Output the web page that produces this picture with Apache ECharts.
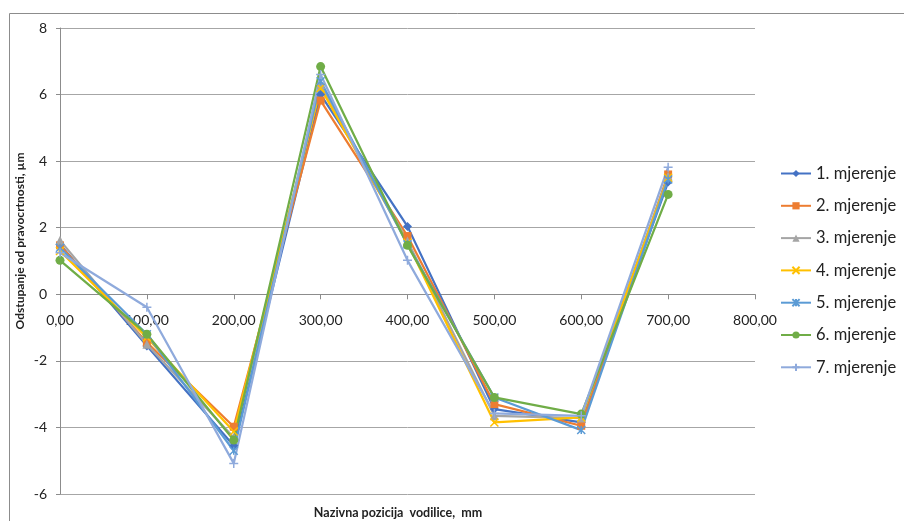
<!DOCTYPE html>
<html><head><meta charset="utf-8">
<script src="https://cdn.jsdelivr.net/npm/echarts@6/dist/echarts.min.js"></script>
<style>html,body{margin:0;padding:0;background:#fff}#c{width:904px;height:521px}</style>
</head><body><div id="c"></div>
<script>
const positions = [0, 100, 200, 300, 400, 500, 600, 700];
const seriesNames = ['1. mjerenje','2. mjerenje','3. mjerenje','4. mjerenje','5. mjerenje','6. mjerenje','7. mjerenje'];
const m1 = [1.50, -1.55, -4.55, 6.00, 2.04, -3.45, -3.85, 3.37];
const m2 = [1.47, -1.45, -3.98, 5.82, 1.75, -3.30, -3.95, 3.60];
const m3 = [1.62, -1.50, -4.30, 6.30, 1.60, -3.65, -3.72, 3.55];
const m4 = [1.30, -1.30, -4.12, 6.20, 1.55, -3.85, -3.70, 3.50];
const m5 = [1.40, -1.20, -4.70, 6.40, 1.50, -3.10, -4.08, 3.45];
const m6 = [1.02, -1.20, -4.38, 6.84, 1.47, -3.10, -3.60, 3.00];
const m7 = [1.25, -0.39, -5.08, 6.60, 1.02, -3.58, -3.65, 3.82];
const allValues = [m1, m2, m3, m4, m5, m6, m7];
const colors = ['#4472C4','#ED7D31','#A5A5A5','#FFC000','#5B9BD5','#70AD47','#8FAADC'];
const symbols = ['diamond','rect','triangle','path://M0,0L10,10M10,0L0,10','path://M0,0L10,10M10,0L0,10M5,0L5,10','circle','path://M5,0L5,10M0,5L10,5'];
const symbolSizes = [9,8,9,8,8,9,9];
const yMin = -6, yMax = 8;

const gridTop = 28, gridBottom = 27, chartH = 521;
const plotH = chartH - gridTop - gridBottom;
const xAxisOffset = -((0 - yMin) / (yMax - yMin)) * plotH;

const fmt = v => v.toFixed(2).replace('.', ',');
const series = allValues.map((vals, i) => {
  const hollow = symbols[i].startsWith('path');
  return {
    name: seriesNames[i], type: 'line',
    data: positions.map((p, j) => [p, vals[j]]),
    symbol: symbols[i], symbolSize: symbolSizes[i],
    lineStyle: { color: colors[i], width: 2.25 },
    itemStyle: hollow ? { color: 'transparent', borderColor: colors[i], borderWidth: 1.5 } : { color: colors[i], borderColor: colors[i], borderWidth: 0 },
    emphasis: { disabled: true },
    animation: false
  };
});

const chart = echarts.init(document.getElementById('c'));
chart.setOption({
  animation: false,
  color: colors,
  textStyle: { fontFamily: 'Lato' },
  grid: { left: 60, right: 149, top: gridTop, bottom: gridBottom, containLabel: false },
  xAxis: {
    type: 'value', min: 0, max: 800, interval: 100, position: 'bottom', offset: xAxisOffset,
    axisLine: { show: true, onZero: false, lineStyle: { color: '#8c8c8c', width: 1 } },
    axisTick: { show: true, length: 5, lineStyle: { color: '#8c8c8c' } },
    axisLabel: { formatter: fmt, color: '#222', fontSize: 14, margin: 19, fontFamily: 'Lato' },
    splitLine: { show: false }
  },
  yAxis: {
    type: 'value', min: yMin, max: yMax, interval: 2,
    axisLine: { show: true, onZero: false, lineStyle: { color: '#8c8c8c', width: 1 } },
    axisTick: { show: true, length: 4, lineStyle: { color: '#8c8c8c' } },
    axisLabel: { color: '#222', fontSize: 14, margin: 13, fontFamily: 'Lato' },
    splitLine: { show: true, lineStyle: { color: '#a6a6a6', width: 1 } }
  },
  legend: {
    orient: 'vertical', left: 780, top: 165,
    itemWidth: 30, itemHeight: 9, itemGap: 15.3, padding: 0,
    textStyle: { fontSize: 16.5, color: '#222', fontFamily: 'Lato' },
    data: seriesNames
  },
  graphic: [
    { type: 'rect', shape: { x: 9.5, y: 13.5, width: 1000, height: 1000 }, style: { fill: 'none', stroke: '#8c8c8c', lineWidth: 1 }, silent: true },
    { type: 'text', x: 398, y: 513, style: { text: 'Nazivna pozicija  vodilice,  mm', font: 'bold 12.5px Lato', fill: '#222', align: 'center', verticalAlign: 'middle' } },
    { type: 'text', x: 20, y: 241, rotation: Math.PI / 2, style: { text: 'Odstupanje od pravocrtnosti, µm', font: 'bold 12px Lato', fill: '#222', align: 'center', verticalAlign: 'middle' } }
  ],
  series: series
});
</script></body></html>
